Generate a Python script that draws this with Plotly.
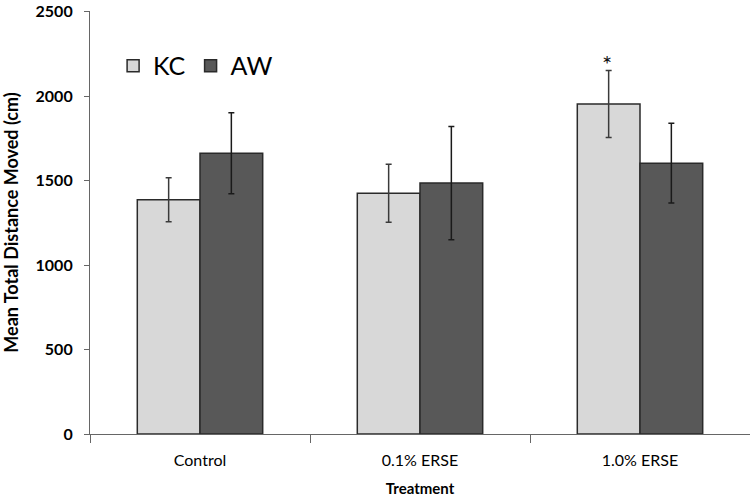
import plotly.graph_objects as go

# Data
treatments = ["Control", "0.1% ERSE", "1.0% ERSE"]
kc_mean = [1387, 1426, 1954]
kc_err = [130, 172, 198]
aw_mean = [1663, 1486, 1604]
aw_err = [240, 335, 236]
y_ticks = [0, 500, 1000, 1500, 2000, 2500]

FONT = "Lato"

fig = go.Figure()
fig.add_trace(go.Bar(
    x=treatments, y=kc_mean, name="KC",
    marker=dict(color="#d8d8d8", line=dict(color="#2a2a2a", width=1.5)),
    error_y=dict(type="data", array=kc_err, color="#3a3a3a", thickness=1.5, width=3),
))
fig.add_trace(go.Bar(
    x=treatments, y=aw_mean, name="AW",
    marker=dict(color="#585858", line=dict(color="#2a2a2a", width=1.5)),
    error_y=dict(type="data", array=aw_err, color="#1a1a1a", thickness=1.5, width=3),
))

# significance marker over the 1.0% KC bar
fig.add_annotation(x="1.0% ERSE", y=2195, text="*", showarrow=False, xshift=-33,
                   font=dict(family=FONT, size=24, color="#111"))

fig.update_layout(
    width=750, height=502,
    margin=dict(l=90, r=0, t=11, b=68),
    paper_bgcolor="white", plot_bgcolor="white",
    barmode="group", bargap=0.43, bargroupgap=0,
    font=dict(family=FONT, color="black"),
    showlegend=True,
    legend=dict(orientation="h", x=0.035, y=0.87, xanchor="left", yanchor="middle",
                font=dict(family=FONT, size=25), bgcolor="rgba(0,0,0,0)",
                itemwidth=30, traceorder="normal"),
)
fig.update_xaxes(
    type="category", range=[-0.5, 2.5], automargin=False,
    showline=True, linecolor="#666", linewidth=1.2,
    ticks="outside", tickson="boundaries", ticklen=8, tickcolor="#666",
    ticklabelstandoff=12,
    tickfont=dict(family=FONT, size=16), showgrid=False,
    title=dict(text="<b>Treatment</b>", font=dict(family=FONT, size=15)),
)
fig.update_yaxes(
    range=[0, 2505], tickvals=y_ticks, automargin=False,
    showline=True, linecolor="#666", linewidth=1.2,
    ticks="outside", ticklen=5, tickcolor="#666",
    ticklabelstandoff=8, ticklabeloverflow="allow",
    tickfont=dict(family=FONT, size=16, weight="bold"), showgrid=False, zeroline=False,
    title=dict(text="<b>Mean Total Distance Moved (cm)</b>", font=dict(family=FONT, size=18)),
)

# drop the browser's default body margin so the 750x502 figure fills the window
fig.write_html("out.html", config={"displayModeBar": False},
               post_script="document.body.style.margin='0';")
